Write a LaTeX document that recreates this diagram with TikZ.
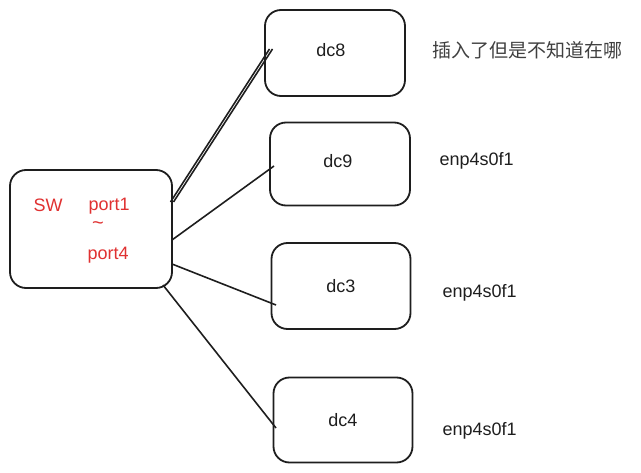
\documentclass[tikz,border=0pt]{standalone}
\usepackage{fontspec}
\setmainfont{Liberation Sans}
\newfontfamily\cjk{Noto Sans CJK SC}
\definecolor{inkred}{RGB}{224,49,49}
\definecolor{ink}{RGB}{30,30,30}
\begin{document}
\begin{tikzpicture}[x=1pt,y=-1pt,
  box/.style={draw=ink,line width=1.8pt,rounded corners=16pt,fill=white},
  lbl/.style={font=\fontsize{18}{21}\selectfont,text=ink},
  red/.style={font=\fontsize{18}{21}\selectfont,text=inkred,inner sep=0.5pt},
  link/.style={draw=ink,line width=1.6pt}]
\useasboundingbox (0,0) rectangle (641,473);
% switch
\node[box,minimum width=162pt,minimum height=118pt] (sw) at (91,229) {};
\node[red,anchor=west] (swl) at (33,205) {SW};
\node[red,anchor=west] (p1) at (88,206) {port1};
\node[red,font=\fontsize{20}{22}\selectfont,inner sep=0pt] (tl) at (98,226) {\char`~};
\node[red,anchor=west] (p4) at (87,255) {port4};
% dc boxes
\node[box,minimum width=140pt,minimum height=86pt] (dc8) at (335,53) {};
\node[box,minimum width=140pt,minimum height=83pt] (dc9) at (340,164) {};
\node[box,minimum width=139pt,minimum height=86pt] (dc3) at (341,286) {};
\node[box,minimum width=139pt,minimum height=85pt] (dc4) at (343,420) {};
\node[lbl] at (331,50) {dc8};
\node[lbl] at (338,161) {dc9};
\node[lbl] at (341,286) {dc3};
\node[lbl] at (343,420) {dc4};
% side labels
\node[lbl,anchor=west,font=\fontsize{19}{22}\selectfont,text=ink!85] (cn) at (429,50) {\cjk 插入了但是不知道在哪};
\node[lbl,anchor=west] (e9) at (436,161) {enp4s0f1};
\node[lbl,anchor=west] (e3) at (439,293) {enp4s0f1};
\node[lbl,anchor=west] (e4) at (439,431) {enp4s0f1};
% connectors
\coordinate (a1) at (172,202);
\coordinate (b1) at (271,49);
\draw[link] ([xshift=-1.5pt]a1) -- ([xshift=-1.5pt]b1);
\draw[link] ([xshift=1.5pt]a1) -- ([xshift=1.5pt]b1);
\coordinate (a2) at (172,240);
\coordinate (b2) at (274,166);
\draw[link] (a2) -- (b2);
\coordinate (a3) at (172,264);
\coordinate (b3) at (276,305);
\draw[link] (a3) -- (b3);
\coordinate (a4) at (163,285);
\coordinate (b4) at (276,428);
\draw[link] (a4) -- (b4);
\end{tikzpicture}
\end{document}
